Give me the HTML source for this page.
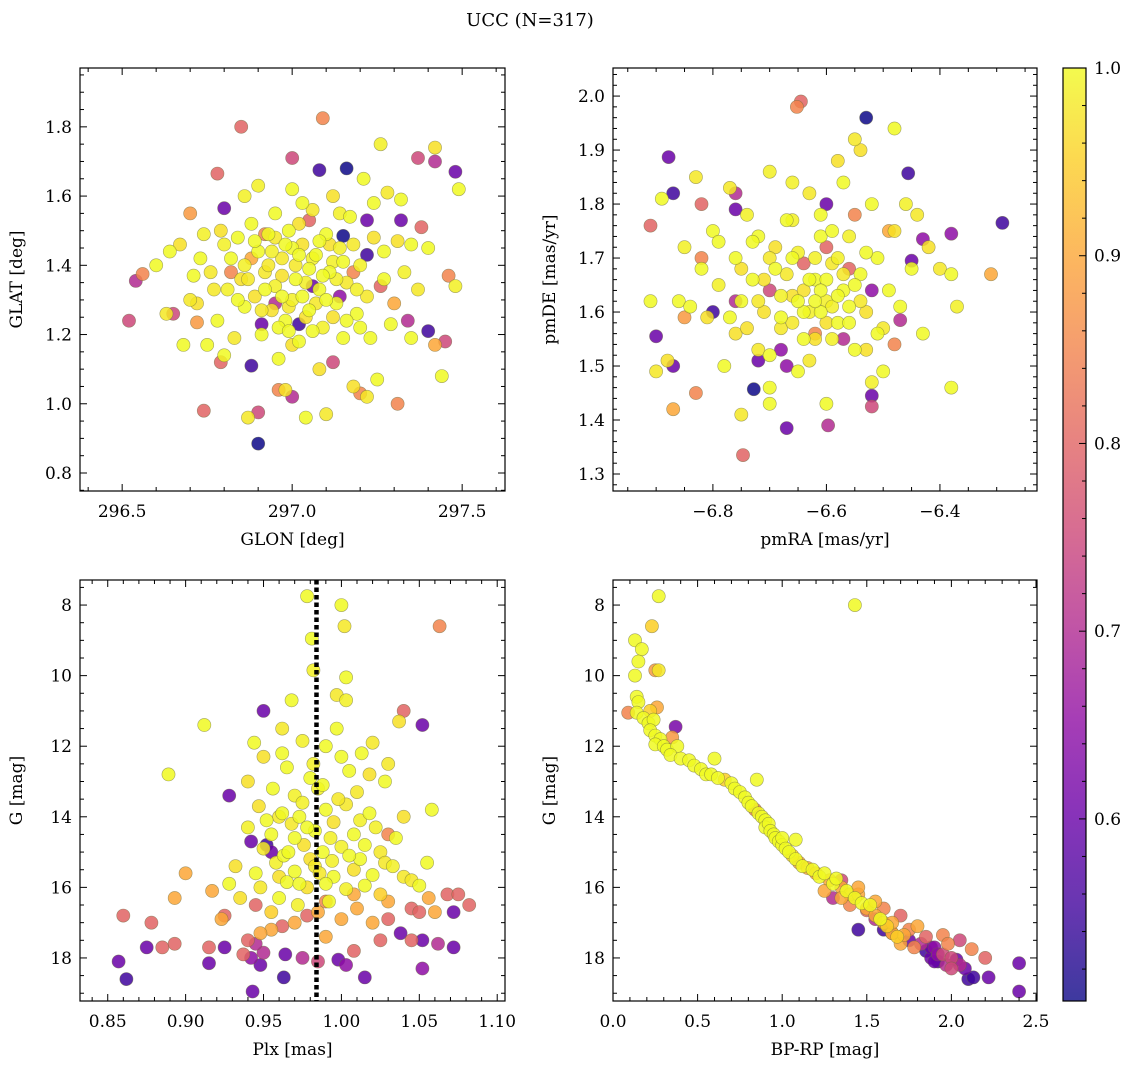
<!DOCTYPE html>
<html><head><meta charset="utf-8"><title>UCC (N=317)</title>
<style>
html,body{margin:0;padding:0;background:#fff;}
svg{display:block;font-family:"DejaVu Serif","Liberation Serif",serif;}
</style></head>
<body>
<svg id="fig" width="1136" height="1068" viewBox="0 0 1136 1068" xmlns="http://www.w3.org/2000/svg">
<defs>
<linearGradient id="plasma" x1="0" y1="1" x2="0" y2="0"></linearGradient>
</defs>
<text x="530" y="26" font-size="18" text-anchor="middle">UCC (N=317)</text>
</svg>
<script>
// Panel 1: GLON, GLAT, membership prob
const p1Points=[
[296.52,1.24,0.75],[296.54,1.355,0.70],[296.56,1.375,0.85],[296.65,1.26,0.75],[296.74,0.98,0.80],[296.70,1.55,0.88],[296.78,1.665,0.80],[296.85,1.80,0.80],[296.80,1.565,0.60],[296.79,1.12,0.80],[296.88,1.11,0.55],[296.90,0.885,0.50],[296.91,1.23,0.60],[297.0,1.71,0.75],[297.09,1.825,0.85],[297.0,1.02,0.70],[296.90,0.975,0.75],[296.96,1.04,0.85],[297.20,1.03,0.85],[297.31,1.0,0.85],[297.37,1.71,0.75],[297.42,1.70,0.70],[297.48,1.67,0.60],[297.46,1.37,0.85],[297.45,1.18,0.75],[297.42,1.17,0.90],[297.40,1.21,0.55],[297.34,1.24,0.70],[297.38,1.51,0.80],[297.32,1.53,0.60],[297.16,1.68,0.50],[297.08,1.675,0.55],[297.15,1.485,0.50],[297.22,1.53,0.60],[297.22,1.43,0.55],[297.02,1.23,0.55],[297.14,1.31,0.65],[297.05,1.53,0.80],[297.12,1.12,0.75],[296.92,1.49,0.85],[296.82,1.38,0.85],[296.72,1.235,0.88],[296.95,1.29,0.70],[297.26,1.34,0.80],[297.06,1.34,0.60],[296.88,1.42,0.90],[297.18,1.38,0.85],[297.30,1.29,0.90],
[296.60,1.40,1],[296.63,1.26,0.98],[296.64,1.44,1],[296.67,1.46,0.97],[296.68,1.17,1],[296.70,1.30,0.98],[296.71,1.37,1],[296.72,1.29,0.97],[296.73,1.42,1],[296.74,1.49,0.99],[296.75,1.17,1],[296.76,1.38,0.98],[296.78,1.24,1],[296.79,1.50,0.97],[296.80,1.14,1],[296.81,1.33,0.99],[296.82,1.42,1],[296.83,1.19,0.98],[296.84,1.48,1],[296.85,1.36,0.97],[296.86,1.28,1],[296.86,1.60,0.99],[296.87,0.96,0.98],[296.88,1.52,1],[296.89,1.31,0.97],[296.90,1.44,1],[296.90,1.63,0.99],[296.91,1.20,1],[296.92,1.38,0.98],[296.93,1.49,1],[296.94,1.27,0.97],[296.95,1.55,1],[296.95,1.34,0.99],[296.96,1.13,1],[296.97,1.42,0.98],[296.98,1.24,1],[296.98,1.04,0.97],[296.99,1.50,1],[297.00,1.30,0.99],[297.00,1.62,1],[297.01,1.40,0.98],[297.02,1.18,1],[297.03,1.46,0.97],[297.04,0.96,1],[297.04,1.35,0.99],[297.05,1.27,1],[297.06,1.56,0.98],[297.07,1.43,1],[297.08,1.10,0.97],[297.08,1.33,1],[297.09,1.22,0.99],[297.10,1.49,1],[297.10,0.97,0.98],[297.11,1.38,1],[297.12,1.60,0.97],[297.13,1.29,1],[297.14,1.45,0.99],[297.15,1.19,1],[297.16,1.35,0.98],[297.17,1.54,1],[297.18,1.05,0.97],[297.19,1.26,1],[297.20,1.40,0.99],[297.21,1.65,1],[297.22,1.31,0.98],[297.23,1.19,1],[297.24,1.48,0.97],[297.25,1.07,1],[297.26,1.75,0.99],[297.27,1.36,1],[297.28,1.61,0.98],[297.29,1.23,1],[297.31,1.47,0.97],[297.32,1.59,1],[297.33,1.38,0.99],[297.35,1.19,1],[297.37,1.33,0.98],[297.40,1.45,1],[297.42,1.74,0.97],[297.49,1.62,1],[297.48,1.34,0.99],[297.44,1.08,1],[297.22,1.02,0.98],[297.00,1.45,1],[296.97,1.37,0.97],[297.05,1.39,1],[297.12,1.41,0.99],[296.92,1.33,1],[297.18,1.46,0.98],[297.03,1.31,1],[296.99,1.28,0.98],[297.08,1.47,1],[296.94,1.44,0.99],[297.16,1.24,1],[296.87,1.36,0.98],[297.10,1.30,1],[297.02,1.52,0.97],[296.96,1.22,1],[297.14,1.55,0.99],[297.24,1.58,1],[296.77,1.33,0.98],[297.35,1.46,1],
[296.98,1.46,1],[297.06,1.42,0.99],[297.01,1.36,1],[296.93,1.40,0.98],[297.09,1.37,1],[297.04,1.25,0.97],[296.97,1.31,1],[297.13,1.36,0.99],[296.89,1.47,1],[297.07,1.29,0.98],[296.99,1.21,1],[297.11,1.46,0.97],[296.84,1.30,1],[297.19,1.33,0.99],[297.03,1.58,1],[296.95,1.48,0.98],[297.15,1.41,1],[297.00,1.17,0.97],[297.20,1.22,1],[296.80,1.46,0.99],[297.06,1.21,1],[296.91,1.27,0.98],[297.27,1.44,1],[297.12,1.25,0.97],[297.02,1.43,1],[296.86,1.40,0.99]
];
// Panel 2: pmRA, pmDE, prob
const p2Points=[
[-6.91,1.76,0.80],[-6.90,1.555,0.60],[-6.87,1.42,0.90],[-6.878,1.887,0.60],[-6.87,1.82,0.55],[-6.82,1.80,0.80],[-6.87,1.50,0.60],[-6.83,1.45,0.85],[-6.728,1.457,0.50],[-6.67,1.385,0.60],[-6.597,1.39,0.70],[-6.747,1.335,0.80],[-6.652,1.98,0.85],[-6.645,1.99,0.80],[-6.53,1.96,0.50],[-6.456,1.857,0.55],[-6.29,1.765,0.55],[-6.43,1.735,0.65],[-6.38,1.745,0.65],[-6.45,1.695,0.60],[-6.47,1.585,0.70],[-6.48,1.54,0.85],[-6.52,1.445,0.60],[-6.52,1.425,0.75],[-6.68,1.53,0.65],[-6.67,1.50,0.65],[-6.72,1.51,0.60],[-6.76,1.79,0.60],[-6.76,1.82,0.70],[-6.60,1.80,0.60],[-6.60,1.72,0.80],[-6.55,1.78,0.85],[-6.80,1.60,0.55],[-6.76,1.62,0.70],[-6.70,1.64,0.75],[-6.57,1.55,0.70],[-6.52,1.64,0.65],[-6.56,1.68,0.80],[-6.62,1.56,0.85],[-6.82,1.70,0.85],[-6.85,1.59,0.88],[-6.49,1.75,0.90],[-6.31,1.67,0.90],[-6.64,1.69,0.80],
[-6.91,1.62,1],[-6.90,1.49,0.98],[-6.89,1.81,1],[-6.88,1.51,0.97],[-6.86,1.62,1],[-6.85,1.72,0.99],[-6.84,1.61,1],[-6.83,1.85,0.98],[-6.82,1.68,1],[-6.81,1.59,0.97],[-6.80,1.75,1],[-6.79,1.65,0.99],[-6.78,1.50,1],[-6.77,1.83,0.98],[-6.76,1.70,1],[-6.76,1.56,0.97],[-6.75,1.62,1],[-6.74,1.78,0.99],[-6.73,1.66,1],[-6.72,1.53,0.98],[-6.72,1.74,1],[-6.71,1.60,0.97],[-6.70,1.43,1],[-6.70,1.86,0.99],[-6.69,1.68,1],[-6.68,1.57,0.98],[-6.67,1.77,1],[-6.66,1.63,0.97],[-6.65,1.49,1],[-6.65,1.71,0.99],[-6.64,1.60,1],[-6.63,1.82,0.98],[-6.62,1.66,1],[-6.62,1.55,0.97],[-6.61,1.74,1],[-6.60,1.62,0.99],[-6.60,1.43,1],[-6.59,1.69,0.98],[-6.58,1.58,1],[-6.58,1.88,0.97],[-6.57,1.64,1],[-6.56,1.74,0.99],[-6.55,1.53,1],[-6.55,1.92,0.98],[-6.54,1.67,1],[-6.53,1.60,0.97],[-6.52,1.80,1],[-6.52,1.47,0.99],[-6.51,1.70,1],[-6.50,1.57,0.98],[-6.49,1.64,1],[-6.48,1.75,0.97],[-6.47,1.61,1],[-6.46,1.80,0.99],[-6.45,1.68,1],[-6.44,1.78,0.98],[-6.43,1.56,1],[-6.42,1.72,0.97],[-6.38,1.67,1],[-6.37,1.61,0.99],[-6.38,1.46,1],[-6.40,1.68,0.98],[-6.48,1.94,1],[-6.54,1.90,0.97],[-6.57,1.84,1],[-6.66,1.84,0.99],[-6.70,1.52,1],[-6.63,1.51,0.98],[-6.61,1.60,1],[-6.64,1.64,0.97],[-6.58,1.63,1],[-6.68,1.63,0.99],[-6.73,1.73,1],[-6.75,1.41,0.98],[-6.70,1.46,1],[-6.53,1.53,0.97],[-6.50,1.49,1],[-6.63,1.60,0.99],[-6.60,1.66,1],[-6.66,1.58,0.98],[-6.56,1.61,1],[-6.69,1.72,0.97],[-6.59,1.75,1],[-6.62,1.70,0.99],[-6.55,1.65,1],[-6.67,1.67,0.98],[-6.77,1.59,1],[-6.74,1.57,0.97],[-6.51,1.56,1],
[-6.61,1.64,1],[-6.59,1.61,0.99],[-6.63,1.66,1],[-6.57,1.67,0.98],[-6.65,1.62,1],[-6.60,1.58,0.97],[-6.62,1.62,1],[-6.58,1.70,0.99],[-6.66,1.70,1],[-6.54,1.62,0.98],[-6.68,1.59,1],[-6.71,1.66,0.97],[-6.64,1.55,1],[-6.59,1.55,0.99],[-6.56,1.58,1],[-6.70,1.70,0.98],[-6.53,1.71,1],[-6.75,1.68,0.97],[-6.61,1.78,1],[-6.66,1.77,0.99],[-6.79,1.73,1],[-6.72,1.62,0.98]
];
// Panel 3: Plx, G, prob
const p3Points=[
[0.917,16.1,0.9],[0.893,16.3,0.9],[0.90,15.6,0.9],[0.923,16.9,0.9],[0.955,17.2,0.9],[0.97,17.0,0.9],[0.985,16.7,0.9],[1.0,16.9,0.9],[1.01,16.6,0.9],[1.03,16.4,0.9],[1.056,16.3,0.9],[1.06,16.7,0.9],[0.948,17.3,0.9],[0.99,17.4,0.9],[1.02,17.0,0.9],[1.008,16.2,0.9],
[0.86,16.8,0.8],[0.878,17.0,0.8],[0.885,17.7,0.8],[0.925,16.8,0.8],[0.945,16.5,0.8],[0.962,17.1,0.8],[0.978,16.8,0.8],[1.008,17.8,0.8],[1.03,16.9,0.8],[1.045,16.6,0.8],[1.068,16.2,0.8],[1.075,16.2,0.8],[1.082,16.5,0.8],[1.063,8.6,0.85],[1.05,16.7,0.8],[0.94,17.5,0.8],[0.893,17.6,0.8],[0.915,17.7,0.8],[0.937,17.9,0.8],[0.99,16.4,0.85],[1.025,17.5,0.8],[0.985,18.1,0.75],[1.045,17.5,0.8],[1.04,11.0,0.8],[1.03,14.5,0.85],
[0.857,18.1,0.6],[0.862,18.6,0.55],[0.875,17.7,0.6],[0.915,18.15,0.6],[0.925,17.7,0.6],[0.942,18.0,0.65],[0.943,18.95,0.6],[0.948,18.2,0.6],[0.95,17.85,0.7],[0.963,18.55,0.55],[0.964,17.9,0.6],[0.975,18.0,0.7],[0.998,18.05,0.6],[1.003,18.2,0.65],[1.015,18.55,0.6],[1.038,17.3,0.6],[1.052,17.5,0.6],[1.052,18.3,0.65],[1.072,16.7,0.6],[1.072,17.7,0.6],[0.928,13.4,0.6],[0.955,15.0,0.6],[0.942,14.7,0.6],[0.952,14.8,0.55],[0.95,11.0,0.6],[1.052,11.4,0.6],[0.945,17.6,0.7],[1.062,17.6,0.7],
[0.978,7.75,1],[1.00,8.0,1],[1.002,8.6,0.98],[0.981,8.95,1],[0.982,9.85,0.99],[1.003,10.05,1],[0.997,10.55,0.98],[0.968,10.7,1],[1.003,10.7,0.99],[0.912,11.4,1],[0.962,11.5,0.98],[0.997,11.5,1],[1.037,11.3,0.97],[0.944,11.9,1],[0.975,11.85,0.99],[0.99,12.0,1],[1.02,11.9,0.98],[1.013,12.2,1],[0.95,12.3,0.97],[0.965,12.6,1],[0.982,12.5,0.99],[1.005,12.7,1],[1.03,12.5,0.98],[0.889,12.8,1],[0.94,13.0,0.97],[0.956,13.2,1],[0.97,13.4,0.99],[0.988,13.1,1],[1.01,13.3,0.98],[1.028,13.0,1],[0.947,13.7,0.97],[0.962,13.9,1],[0.975,13.6,0.99],[0.99,13.8,1],[1.003,13.65,0.98],[1.018,13.9,1],[1.04,14.0,0.97],[1.058,13.8,1],[0.94,14.3,0.99],[0.955,14.5,1],[0.968,14.2,0.98],[0.983,14.4,1],[0.995,14.15,0.97],[1.008,14.5,1],[1.022,14.3,0.99],[1.035,14.6,1],[0.95,14.9,0.98],[0.963,15.1,1],[0.976,14.8,0.97],[0.988,15.0,1],[1.0,14.85,0.99],[1.012,15.2,1],[1.025,15.0,0.98],[1.055,15.3,1],[0.932,15.4,0.97],[0.945,15.6,1],[0.958,15.3,0.99],[0.97,15.55,1],[0.983,15.4,0.98],[0.995,15.7,1],[1.008,15.5,0.97],[1.02,15.65,1],[1.033,15.4,0.99],[0.928,15.9,1],[0.948,16.0,0.98],[0.965,15.85,1],[0.978,16.0,0.97],[0.99,15.9,1],[1.003,16.05,0.99],[1.015,15.95,1],[1.04,15.7,0.98],[1.05,15.95,1],[0.935,16.3,0.97],[0.96,16.3,1],[0.972,16.5,0.99],[0.992,16.4,1],[1.045,15.8,0.98],[0.97,14.6,1],[0.985,13.2,0.99],[1.0,12.3,1],[0.96,14.0,0.98],[1.015,14.8,1],[0.98,15.2,0.97],[0.955,16.7,0.95],[1.025,16.2,0.95],
[0.973,14.0,1],[0.993,14.6,0.99],[0.966,15.0,1],[0.986,15.6,0.98],[1.005,15.1,1],[0.96,15.7,0.97],[0.978,14.3,1],[1.012,14.1,0.99],[0.952,14.1,1],[0.998,13.5,0.98],[0.98,12.9,1],[1.018,12.8,0.97],[0.962,12.2,1],[0.994,15.25,0.99],[0.973,15.9,1],[1.028,15.3,0.98]
];
// Panel 4: BP-RP, G, prob
const p4Points=[
[0.27,7.75,1],[1.43,8.0,1],[0.23,8.6,0.95],[0.13,9.0,1],[0.17,9.25,1],[0.15,9.6,1],[0.25,9.85,0.88],[0.27,9.85,0.98],[0.13,10.0,1],[0.14,10.6,1],[0.15,10.75,1],[0.09,11.05,0.85],[0.14,11.05,1],[0.26,10.9,0.9],[0.22,11.0,0.95],[0.18,11.2,1],[0.21,11.35,1],[0.24,11.25,1],[0.37,11.45,0.62],[0.22,11.55,1],[0.25,11.7,1],[0.28,11.8,1],[0.35,11.75,0.88],[0.25,11.95,1],[0.3,12.0,1],[0.32,12.1,1],[0.38,12.0,1],[0.34,12.25,1],[0.4,12.35,1],[0.45,12.4,1],[0.48,12.55,1],[0.52,12.65,1],[0.55,12.8,1],[0.58,12.8,1],[0.62,12.9,1],[0.6,12.35,1],[0.66,12.95,0.95],[0.7,13.05,1],[0.72,13.2,1],[0.75,13.3,1],[0.78,13.45,1],[0.8,13.6,1],[0.82,13.7,1],[0.84,13.8,0.85],[0.85,12.95,1],[0.86,13.9,1],[0.88,14.0,1],[0.9,14.1,1],[0.9,14.3,1],[0.92,14.2,1],[0.93,14.4,1],[0.95,14.5,1],[0.96,14.6,1],[0.98,14.7,1],[1.0,14.8,1],[1.0,14.6,1],[1.02,14.9,1],[1.04,15.0,1],[1.06,15.1,0.95],[1.08,14.65,1],[1.08,15.2,1],[1.1,15.3,0.9],[1.12,15.4,1],[1.15,15.45,0.9],[1.18,15.5,1],[1.2,15.6,0.9],[1.22,15.7,1],[1.25,15.6,1],[1.28,15.8,0.9],[1.3,15.9,1],[1.32,15.75,1],[1.35,16.0,0.9],[1.38,16.1,1],[1.4,16.2,0.9],[1.43,16.3,1],[1.45,16.2,0.9],[1.47,16.45,1],[1.5,16.6,0.9],[1.52,16.5,1],[1.55,16.8,0.9],[1.58,16.9,1],[1.6,17.0,0.9],[1.62,17.1,0.95],[1.65,17.3,0.9],[1.68,17.4,0.95],[1.7,17.6,0.9],
[1.3,16.3,0.7],[1.4,16.5,0.85],[1.5,16.65,0.8],[1.55,16.9,0.7],[1.6,17.2,0.55],[1.65,17.3,0.8],[1.7,16.8,0.8],[1.75,17.5,0.6],[1.78,17.7,0.85],[1.82,17.6,0.7],[1.85,17.8,0.55],[1.88,18.0,0.6],[1.9,17.7,0.65],[1.92,18.1,0.55],[1.95,17.9,0.75],[1.95,17.35,0.85],[1.97,18.2,0.7],[1.98,17.6,0.85],[2.0,18.0,0.75],[2.0,18.3,0.75],[2.03,18.05,0.6],[2.05,18.2,0.7],[2.05,17.5,0.75],[2.1,18.6,0.55],[2.13,18.55,0.55],[2.12,17.75,0.85],[2.2,18.0,0.8],[2.22,18.55,0.6],[2.4,18.15,0.6],[2.4,18.95,0.6],[1.9,18.1,0.6],[1.45,17.2,0.55],[1.88,17.7,0.6],[1.6,16.6,0.85],[1.55,16.4,0.9],[1.45,16.0,0.9],[1.35,15.8,0.75],[1.25,16.1,0.9],[1.35,16.3,0.9],[1.65,17.0,0.9],[1.72,17.35,0.9],[1.8,17.1,0.9],[1.85,17.4,0.8],[1.75,17.2,0.85],[1.92,17.9,0.65],[2.08,18.3,0.6]
];
const cbTicks=[0.6,0.7,0.8,0.9,1.0];

const NS='http://www.w3.org/2000/svg';
const svg=document.getElementById('fig');
const plasma=[[0,'#0d0887'],[0.1,'#41049d'],[0.2,'#6a00a8'],[0.3,'#8f0da4'],[0.4,'#b12a90'],[0.5,'#cc4778'],[0.6,'#e16462'],[0.7,'#f2844b'],[0.8,'#fca636'],[0.9,'#fcce25'],[1,'#f0f921']];
const CMIN=0.503,CMAX=1.0;
function hex(h){return [1,3,5].map(i=>parseInt(h.substr(i,2),16));}
function cmap(v){let t=(v-CMIN)/(CMAX-CMIN);t=Math.max(0,Math.min(1,t));
 for(let i=1;i<plasma.length;i++){if(t<=plasma[i][0]){const a=plasma[i-1],b=plasma[i];const f=(t-a[0])/(b[0]-a[0]);const ca=hex(a[1]),cb=hex(b[1]);return 'rgb('+ca.map((c,k)=>Math.round(c+(cb[k]-c)*f)).join(',')+')';}}
 return plasma[10][1];}
function el(tag,attrs,parent){const e=document.createElementNS(NS,tag);for(const k in attrs)e.setAttribute(k,attrs[k]);(parent||svg).appendChild(e);return e;}
function fmt(v,d){return v.toFixed(d).replace('-','\u2212');}

const panels=[
 {name:'glon-glat',pts:p1Points,px:[80,505],py:[68,491],xd:[296.376,297.626],yd:[0.748,1.970],xmaj:0.5,xmin:0.1,ymaj:0.2,ymin:0.05,xdec:1,ydec:1,xlab:'GLON [deg]',ylab:'GLAT [deg]',inv:false},
 {name:'pmra-pmde',pts:p2Points,px:[613,1037],py:[68,491],xd:[-6.976,-6.229],yd:[1.2685,2.052],xmaj:0.2,xmin:0.05,ymaj:0.1,ymin:0.02,xdec:1,ydec:1,xlab:'pmRA [mas/yr]',ylab:'pmDE [mas/yr]',inv:false},
 {name:'plx-g',pts:p3Points,px:[80,505],py:[580,1001],xd:[0.8322,1.105],yd:[7.29,19.22],xmaj:0.05,xmin:0.01,ymaj:2,ymin:0.5,xdec:2,ydec:0,xlab:'Plx [mas]',ylab:'G [mag]',inv:true},
 {name:'cmd',pts:p4Points,px:[613,1037],py:[580,1001],xd:[0,2.506],yd:[7.29,19.22],xmaj:0.5,xmin:0.1,ymaj:2,ymin:0.5,xdec:1,ydec:0,xlab:'BP-RP [mag]',ylab:'G [mag]',inv:true}
];
panels.forEach((P,pi)=>{
 const g=el('g',{});
 
 
 const sx=v=>P.px[0]+(v-P.xd[0])/(P.xd[1]-P.xd[0])*(P.px[1]-P.px[0]);
 const sy=P.inv? v=>P.py[0]+(v-P.yd[0])/(P.yd[1]-P.yd[0])*(P.py[1]-P.py[0])
              : v=>P.py[1]-(v-P.yd[0])/(P.yd[1]-P.yd[0])*(P.py[1]-P.py[0]);
 const cid='clip'+pi;
 const cp=el('clipPath',{id:cid},g);el('rect',{x:P.px[0],y:P.py[0],width:P.px[1]-P.px[0],height:P.py[1]-P.py[0]},cp);
 const pg=el('g',{'clip-path':'url(#'+cid+')'},g);
 
 
 const sorted=P.pts.slice().sort((a,b)=>a[2]-b[2]);
 sorted.forEach(p=>{
  const c=el('circle',{cx:sx(p[0]).toFixed(1),cy:sy(p[1]).toFixed(1),r:6.6,fill:cmap(p[2]),'fill-opacity':0.85,stroke:'#6b6b40','stroke-opacity':0.6,'stroke-width':0.6},pg);
  
  
 });
 if(P.name==='plx-g'){
  const ln=el('line',{x1:sx(0.984),x2:sx(0.984),y1:P.py[0],y2:P.py[1],stroke:'#000','stroke-width':4.5,'stroke-dasharray':'4.5 3'},g);
  
  
 }
 const fr=el('rect',{x:P.px[0],y:P.py[0],width:P.px[1]-P.px[0],height:P.py[1]-P.py[0],fill:'none',stroke:'#000','stroke-width':1.2},g);
 
 
 const eps=1e-9;
 for(let v=Math.ceil(P.xd[0]/P.xmin-eps)*P.xmin; v<=P.xd[1]+eps; v+=P.xmin){
  const vv=Math.round(v/P.xmin)*P.xmin;const X=sx(vv);
  const major=Math.abs(vv/P.xmaj-Math.round(vv/P.xmaj))<1e-6;const L=major?7:4;
  el('line',{x1:X,x2:X,y1:P.py[1],y2:P.py[1]-L,stroke:'#000','stroke-width':1},g);
  el('line',{x1:X,x2:X,y1:P.py[0],y2:P.py[0]+L,stroke:'#000','stroke-width':1},g);
  if(major){const t=el('text',{x:X,y:P.py[1]+26,'font-size':17,'text-anchor':'middle'},g);t.textContent=fmt(vv,P.xdec);
   
   }
 }
 for(let v=Math.ceil(P.yd[0]/P.ymin-eps)*P.ymin; v<=P.yd[1]+eps; v+=P.ymin){
  const vv=Math.round(v/P.ymin)*P.ymin;const Y=sy(vv);
  const major=Math.abs(vv/P.ymaj-Math.round(vv/P.ymaj))<1e-6;const L=major?7:4;
  el('line',{x1:P.px[0],x2:P.px[0]+L,y1:Y,y2:Y,stroke:'#000','stroke-width':1},g);
  el('line',{x1:P.px[1],x2:P.px[1]-L,y1:Y,y2:Y,stroke:'#000','stroke-width':1},g);
  if(major){const t=el('text',{x:P.px[0]-8,y:Y+6,'font-size':17,'text-anchor':'end'},g);t.textContent=fmt(vv,P.ydec);
   
   }
 }
 const xl=el('text',{x:(P.px[0]+P.px[1])/2,y:P.py[1]+54,'font-size':17,'text-anchor':'middle'},g);xl.textContent=P.xlab;
 
 
 const yx=P.px[0]-58,yc=(P.py[0]+P.py[1])/2;
 const yl=el('text',{x:yx,y:yc,'font-size':17,'text-anchor':'middle',transform:'rotate(-90 '+yx+' '+yc+')'},g);yl.textContent=P.ylab;
 
 
});
const grad=document.getElementById('plasma');
plasma.forEach(s=>{el('stop',{offset:s[0],'stop-color':s[1]},grad);});
const cb=el('g',{});


const CB={x0:1063,x1:1086,y0:68,y1:1001};
el('rect',{x:CB.x0,y:CB.y0,width:CB.x1-CB.x0,height:CB.y1-CB.y0,fill:'url(#plasma)','fill-opacity':0.8},cb);
el('rect',{x:CB.x0,y:CB.y0,width:CB.x1-CB.x0,height:CB.y1-CB.y0,fill:'none',stroke:'#000','stroke-width':1.2},cb);
const cy=v=>CB.y1-(v-CMIN)/(CMAX-CMIN)*(CB.y1-CB.y0);
for(let v=0.52;v<=1.0001;v+=0.02){const vv=Math.round(v*100)/100;const Y=cy(vv);const major=cbTicks.some(t=>Math.abs(t-vv)<1e-6);
 el('line',{x1:CB.x1,x2:CB.x1-(major?7:4),y1:Y,y2:Y,stroke:'#000','stroke-width':1},cb);}
cbTicks.forEach(v=>{const t=el('text',{x:CB.x1+8,y:cy(v)+6,'font-size':17},cb);t.textContent=v.toFixed(1);
 
 });
</script>
</body></html>
